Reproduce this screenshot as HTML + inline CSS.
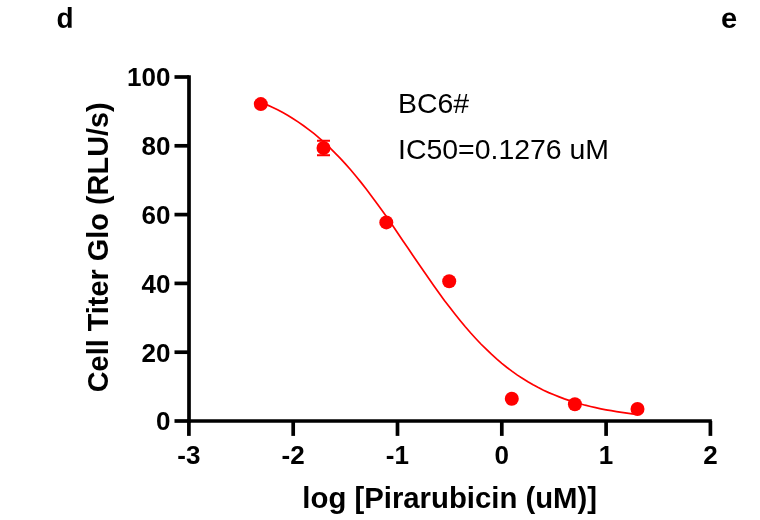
<!DOCTYPE html>
<html><head><meta charset="utf-8"><title>BC6# Pirarubicin dose response</title>
<style>
html,body{margin:0;padding:0;background:#fff;}
svg{display:block;}
text{font-family:"Liberation Sans",Arial,sans-serif;fill:#000;}
.b{font-weight:bold;}
</style></head><body>
<svg width="760" height="520" viewBox="0 0 760 520">
<rect width="760" height="520" fill="#fff"/>
<text class="b" transform="translate(56.5 27.7) rotate(0.03) scale(0.98 1.0)" font-size="28.5">d</text>
<text class="b" transform="translate(721 27.7) rotate(0.03) scale(1.02 1.0)" font-size="28.5">e</text>
<g stroke="#000" stroke-width="3.7" fill="none" stroke-linecap="butt">
<path d="M189 75.15 V422.85"/>
<path d="M187.15 421 H711.85"/>
<path d="M174.5 421.0 H189"/>
<path d="M174.5 352.2 H189"/>
<path d="M174.5 283.4 H189"/>
<path d="M174.5 214.6 H189"/>
<path d="M174.5 145.8 H189"/>
<path d="M174.5 77.0 H189"/>
<path d="M188.9 421 V435.9"/>
<path d="M293.2 421 V435.9"/>
<path d="M397.5 421 V435.9"/>
<path d="M501.8 421 V435.9"/>
<path d="M606.1 421 V435.9"/>
<path d="M710.4 421 V435.9"/>
</g>
<text class="b" text-anchor="end" x="170.5" y="430.3" font-size="26">0</text>
<text class="b" text-anchor="end" x="170.5" y="361.5" font-size="26">20</text>
<text class="b" text-anchor="end" x="170.5" y="292.7" font-size="26">40</text>
<text class="b" text-anchor="end" x="170.5" y="223.9" font-size="26">60</text>
<text class="b" text-anchor="end" x="170.5" y="155.1" font-size="26">80</text>
<text class="b" text-anchor="end" x="170.5" y="86.3" font-size="26">100</text>
<text class="b" text-anchor="middle" x="188.8" y="464.4" font-size="26">-3</text>
<text class="b" text-anchor="middle" x="293.1" y="464.4" font-size="26">-2</text>
<text class="b" text-anchor="middle" x="397.4" y="464.4" font-size="26">-1</text>
<text class="b" text-anchor="middle" x="501.8" y="464.4" font-size="26">0</text>
<text class="b" text-anchor="middle" x="606.1" y="464.4" font-size="26">1</text>
<text class="b" text-anchor="middle" x="710.4" y="464.4" font-size="26">2</text>
<text class="b" text-anchor="middle" transform="translate(449.7 507.7) scale(1.022 1)" font-size="28.7">log [Pirarubicin (uM)]</text>
<text class="b" text-anchor="middle" transform="translate(108 247.3) rotate(-90)" font-size="28.9">Cell Titer Glo (RLU/s)</text>
<text x="398" y="112.7" font-size="28.45">BC6#</text>
<text x="398" y="158.5" font-size="28.45">IC50=0.1276 uM</text>
<path d="M261.9 102.7 L267.1 104.9 L272.3 107.2 L277.6 109.8 L282.8 112.6 L288.0 115.5 L293.2 118.7 L298.4 122.1 L303.6 125.7 L308.8 129.6 L314.1 133.7 L319.3 138.1 L324.5 142.7 L329.7 147.6 L334.9 152.8 L340.1 158.2 L345.4 163.9 L350.6 169.8 L355.8 176.0 L361.0 182.4 L366.2 189.1 L371.4 196.0 L376.6 203.0 L381.9 210.3 L387.1 217.6 L392.3 225.1 L397.5 232.7 L402.7 240.4 L407.9 248.1 L413.1 255.8 L418.4 263.5 L423.6 271.1 L428.8 278.6 L434.0 286.0 L439.2 293.3 L444.4 300.4 L449.7 307.3 L454.9 314.0 L460.1 320.5 L465.3 326.8 L470.5 332.8 L475.7 338.5 L480.9 344.0 L486.2 349.2 L491.4 354.2 L496.6 358.9 L501.8 363.3 L507.0 367.5 L512.2 371.4 L517.4 375.1 L522.7 378.5 L527.9 381.8 L533.1 384.8 L538.3 387.6 L543.5 390.2 L548.7 392.6 L554.0 394.8 L559.2 396.9 L564.4 398.9 L569.6 400.6 L574.8 402.3 L580.0 403.8 L585.2 405.2 L590.5 406.5 L595.7 407.7 L600.9 408.8 L606.1 409.8 L611.3 410.7 L616.5 411.6 L621.7 412.4 L627.0 413.1 L632.2 413.8 L637.4 414.4" fill="none" stroke="#f00" stroke-width="1.7"/>
<g stroke="#f00" stroke-width="2" fill="none"><path d="M317 140.7 H330 M317 155.3 H330 M323.5 140.7 V155.3"/></g>
<circle cx="260.8" cy="104.1" r="7.0" fill="#f00"/>
<circle cx="323.5" cy="148" r="7.0" fill="#f00"/>
<circle cx="386.3" cy="222.4" r="7.0" fill="#f00"/>
<circle cx="449.2" cy="281.2" r="7.0" fill="#f00"/>
<circle cx="511.8" cy="398.8" r="7.0" fill="#f00"/>
<circle cx="574.9" cy="404.3" r="7.0" fill="#f00"/>
<circle cx="637.5" cy="409" r="7.0" fill="#f00"/>
</svg></body></html>
